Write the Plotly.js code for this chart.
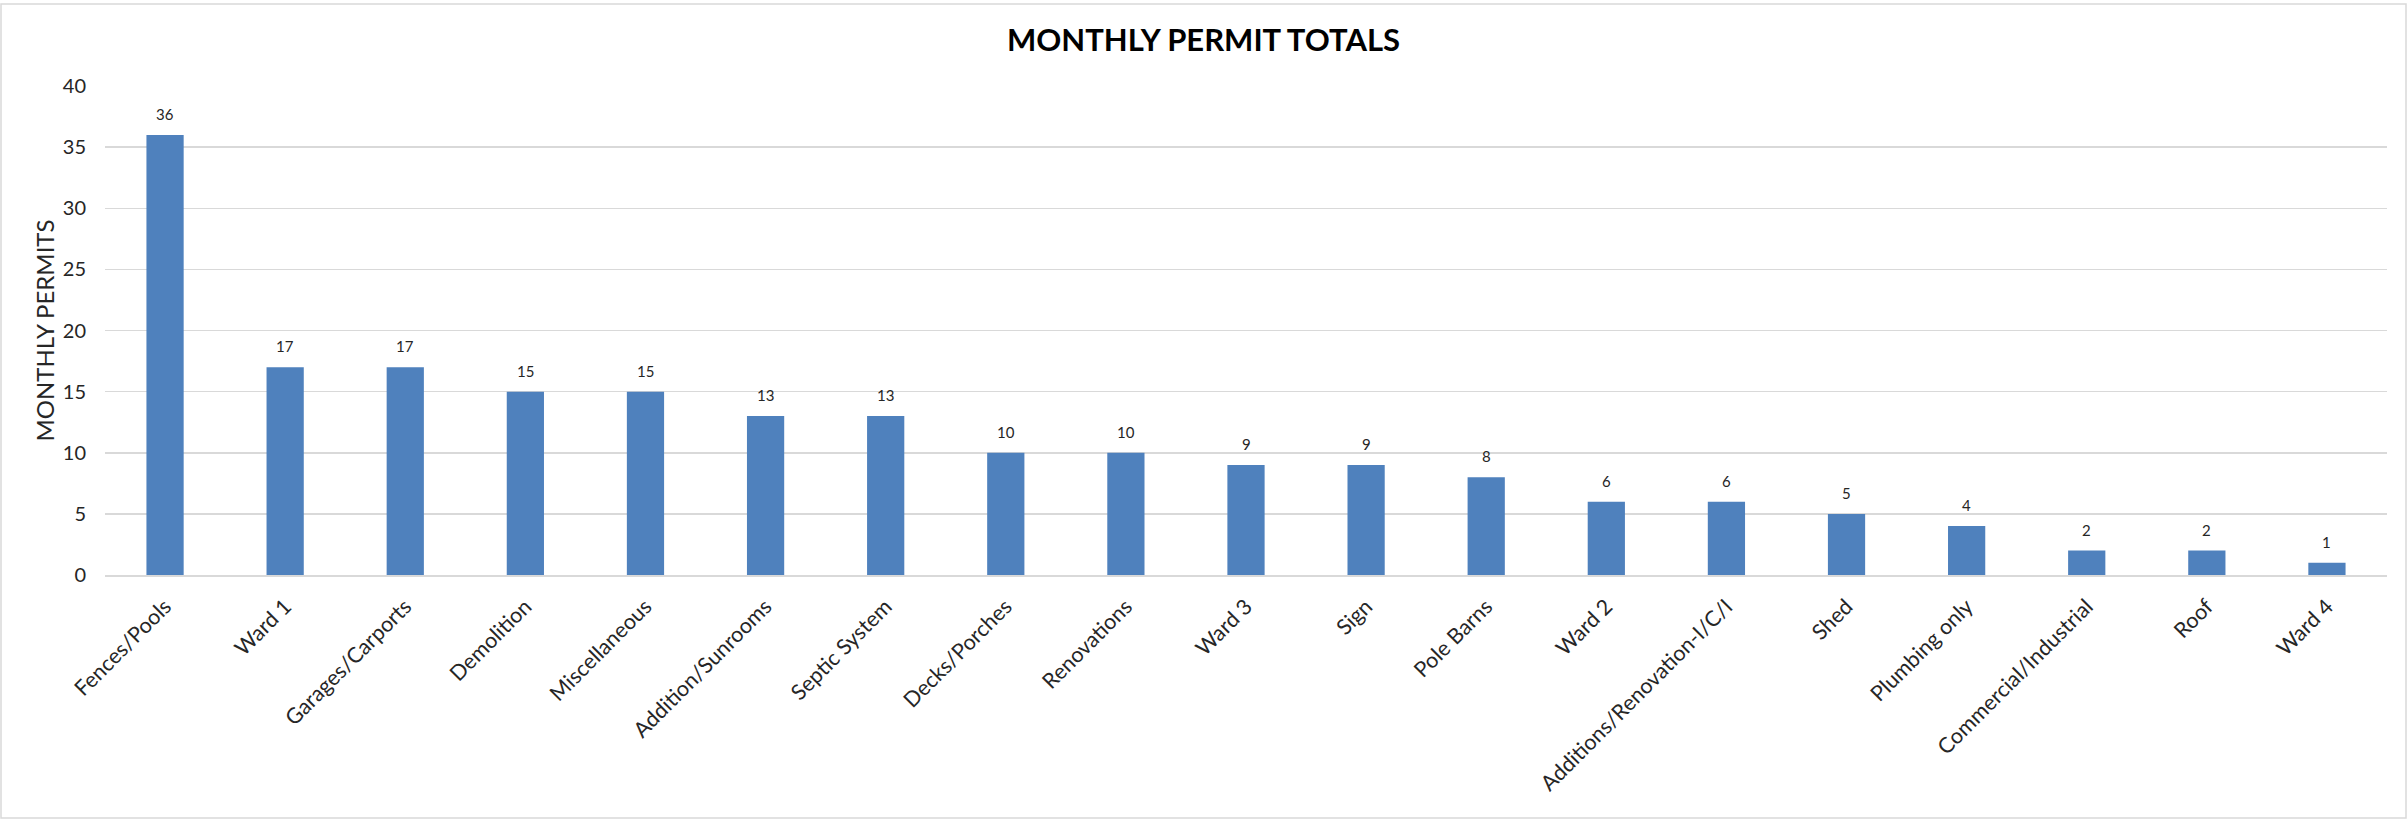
<!DOCTYPE html>
<html>
<head>
<meta charset="utf-8">
<script src="https://cdn.plot.ly/plotly-3.0.1.min.js"></script>
<style>html,body{margin:0;padding:0;background:#fff;}#chart{width:2407px;height:821px;}</style>
</head>
<body>
<div id="chart"></div>
<script>
const categories = ["Fences/Pools","Ward 1","Garages/Carports","Demolition","Miscellaneous","Addition/Sunrooms","Septic System","Decks/Porches","Renovations","Ward 3","Sign","Pole Barns","Ward 2","Additions/Renovation-I/C/I","Shed","Plumbing only","Commercial/Industrial","Roof","Ward 4"];
const permits = [36,17,17,15,15,13,13,10,10,9,9,8,6,6,5,4,2,2,1];
const yTicks = [0,5,10,15,20,25,30,35,40];

const W = 2407, H = 821;
const m = {l:105, r:20, t:86, b:246};
const pw = W - m.l - m.r, ph = H - m.t - m.b;
const FONT = "Lato, 'Open Sans', sans-serif";

const trace = {
  type: 'bar',
  x: categories,
  y: permits,
  marker: {color: '#4f81bd', line: {width: 0}},
  hoverinfo: 'x+y'
};

const labels = categories.map((c, i) => ({
  x: c, y: permits[i], xref: 'x', yref: 'y',
  text: String(permits[i]),
  showarrow: false, yanchor: 'bottom', yshift: 10,
  font: {family: FONT, size: 15, color: '#262626'}
}));

const layout = {
  width: W, height: H,
  margin: m,
  paper_bgcolor: '#ffffff',
  plot_bgcolor: '#ffffff',
  showlegend: false,
  bargap: 0.69,
  font: {family: FONT, color: '#262626'},
  title: {
    text: '<b>MONTHLY PERMIT TOTALS</b>',
    font: {family: FONT, size: 31, color: '#000000'},
    x: 0.5, xref: 'container', xanchor: 'center',
    y: 1 - 40/H, yref: 'container', yanchor: 'middle'
  },
  xaxis: {
    type: 'category',
    tickangle: -45,
    tickfont: {family: FONT, size: 21.5, color: '#262626'},
    ticks: 'outside', ticklen: 9, tickcolor: 'rgba(0,0,0,0)',
    showline: true, linecolor: '#d9d9d9', linewidth: 1.5,
    showgrid: false, zeroline: false,
    automargin: false
  },
  yaxis: {
    range: [0, 40],
    tickvals: yTicks,
    ticktext: yTicks.map(String),
    tickfont: {family: FONT, size: 20, color: '#262626'},
    ticks: 'outside', ticklen: 14, tickcolor: 'rgba(0,0,0,0)',
    showgrid: true, gridcolor: '#d9d9d9', gridwidth: 1.5,
    zeroline: false, showline: false,
    automargin: false,
    title: {text: 'MONTHLY PERMITS', font: {family: FONT, size: 24, color: '#262626'}, standoff: 1}
  },
  annotations: labels,
  shapes: [{
    type: 'rect', xref: 'paper', yref: 'paper',
    x0: (1 - m.l)/pw, x1: (2406 - m.l)/pw,
    y0: (m.t + ph - 818)/ph, y1: (m.t + ph - 4)/ph,
    line: {color: '#d9d9d9', width: 1.5}, fillcolor: 'rgba(0,0,0,0)', layer: 'below'
  }]
};

Plotly.newPlot('chart', [trace], layout, {displayModeBar: false, staticPlot: true});
</script>
</body>
</html>
